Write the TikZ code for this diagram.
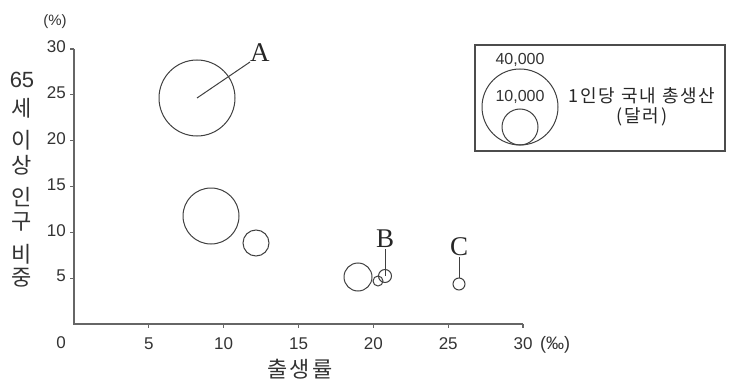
\documentclass[tikz,border=0pt]{standalone}
\usepackage{fontspec}
\setmainfont{Liberation Sans}
\newfontfamily\kr{Noto Sans CJK KR}
\newfontfamily\krw{Noto Sans CJK KR}[LetterSpace=10]
\newfontfamily\ser{Liberation Serif}
\begin{document}
\begin{tikzpicture}[x=1pt,y=-1pt,
  axis/.style={draw=black!60, line width=1.3pt},
  bub/.style={circle, draw=black!75, line width=1pt, inner sep=0pt},
  tick/.style={draw=black!60, line width=1.1pt},
  num/.style={inner sep=0pt, font=\fontsize{17}{17}\selectfont, text=black!80},
  ylab/.style={inner sep=0pt, font=\kr\fontsize{22}{22}\selectfont, text=black!80},
  letter/.style={inner sep=1.5pt, font=\ser\fontsize{27}{27}\selectfont, text=black!85},
  lead/.style={draw=black!75, line width=1pt},
  leg/.style={inner sep=0pt, font=\krw\fontsize{18}{18}\selectfont, text=black!85}
]
\useasboundingbox (0,0) rectangle (733,385);
% axes
\coordinate (top) at (74,49);
\coordinate (org) at (74,324);
\coordinate (right) at (523,324);
\draw[axis] (top) -- (org) -- (right);
% y ticks
\foreach \v/\y in {5/278.2,10/232.3,15/186.5,20/140.7,25/94.8,30/49}{
  \draw[tick] (70,\y) -- (74,\y);
  \node[num, anchor=east] at (66,\y-2) {\v};
}
% x ticks
\foreach \v/\x in {5/148.8,10/223.7,15/298.5,20/373.3,25/448.2,30/523}{
  \draw[tick] (\x,324) -- (\x,328);
  \node[num] at (\x,344) {\v};
}
\node[num] (zero) at (61,343) {0};
\node[num, font=\fontsize{18}{18}\selectfont] (permil) at (555,345) {(‰)};
\node[num, font=\fontsize{15}{15}\selectfont] (pct) at (55,22) {(\%)};
\node[inner sep=0pt, font=\krw\fontsize{22}{22}\selectfont, text=black!80] (xt) at (300,369) {출생률};
% y label
\node[num, font=\fontsize{22}{22}\selectfont] (y1) at (22,80) {65};
\node[ylab] (y2) at (22,108) {세};
\node[ylab] (y3) at (22,140) {이};
\node[ylab] (y4) at (22,165) {상};
\node[ylab] (y5) at (22,197) {인};
\node[ylab] (y6) at (22,222) {구};
\node[ylab] (y7) at (22,254) {비};
\node[ylab] (y8) at (22,278) {중};
% bubbles
\node[bub, minimum size=76pt] (cA) at (197,98) {};
\node[bub, minimum size=56pt] (c2) at (211,216) {};
\node[bub, minimum size=26pt] (c3) at (256,243) {};
\node[bub, minimum size=28pt] (c4) at (358,277) {};
\node[bub, minimum size=10pt] (c5) at (378,281) {};
\node[bub, minimum size=13pt] (cB) at (385,276) {};
\node[bub, minimum size=12pt] (cC) at (459,284) {};
% labels
\node[letter, anchor=south west, inner sep=0pt] (lA) at (250,62) {A};
\draw[lead] (cA.center) -- (lA.south west);
\node[letter, anchor=south] (lB) at (385,249) {B};
\draw[lead] (cB.center) -- (lB.south);
\node[letter, anchor=south] (lC) at (459,257) {C};
\draw[lead] (cC.north) -- (lC.south);
% legend
\node[draw=black!70, line width=1.1pt, minimum width=250pt, minimum height=106pt, inner sep=0pt] (box) at (600,98) {};
\node[bub, minimum size=76pt] (lg1) at (520,107) {};
\node[bub, minimum size=36pt] (lg2) at (520,127) {};
\node[num, font=\fontsize{16}{16}\selectfont] (t40) at (520,60) {40,000};
\node[num, font=\fontsize{16}{16}\selectfont] (t10) at (520,97) {10,000};
\node[leg] (lt1) at (642,96) {1인당 국내 총생산};
\node[leg] (lt2) at (642,117) {(달러)};
\end{tikzpicture}
\end{document}
